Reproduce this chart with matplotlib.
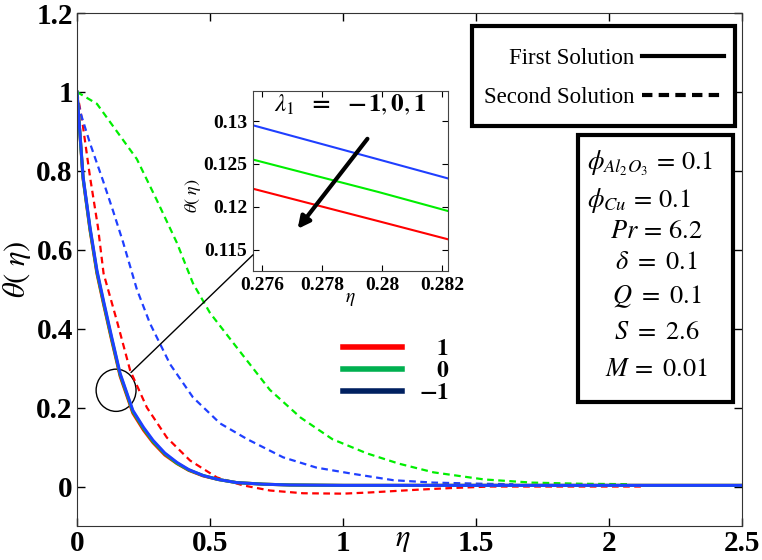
import matplotlib
matplotlib.use("Agg")
import matplotlib.pyplot as plt
from matplotlib.lines import Line2D
from matplotlib.patches import Ellipse, Rectangle, ConnectionPatch
from matplotlib.ticker import FuncFormatter

plt.rcParams["font.family"] = ["Liberation Serif", "DejaVu Serif"]
plt.rcParams["mathtext.fontset"] = "stix"

# first solutions (solid)
eta_s = [0, 0.023, 0.049, 0.075, 0.1, 0.13, 0.162, 0.21, 0.25, 0.286, 0.33,
         0.376, 0.42, 0.474, 0.53, 0.6, 0.7, 0.8, 1.0, 1.5, 2.0, 2.5]
red_s = [1, 0.78, 0.65, 0.54, 0.462, 0.372, 0.28, 0.186, 0.143, 0.111, 0.080,
         0.058, 0.041, 0.027, 0.018, 0.010, 0.006, 0.004, 0.003, 0.003, 0.003, 0.003]
green_s = [1, 0.782, 0.653, 0.544, 0.466, 0.376, 0.284, 0.19, 0.147, 0.114, 0.083,
           0.059, 0.042, 0.028, 0.018, 0.010, 0.006, 0.004, 0.003, 0.003, 0.003, 0.003]
blue_s = [1, 0.785, 0.657, 0.548, 0.47, 0.38, 0.287, 0.193, 0.15, 0.117, 0.085,
          0.061, 0.043, 0.028, 0.018, 0.010, 0.006, 0.004, 0.003, 0.003, 0.003, 0.003]

# second solutions (dashed)
eta_rd = [0, 0.019, 0.049, 0.079, 0.1, 0.15, 0.2, 0.263, 0.338, 0.425, 0.526,
          0.624, 0.725, 0.85, 1.0, 1.1, 1.28, 1.4, 1.55, 1.8, 2.13]
red_d = [1, 0.93, 0.785, 0.657, 0.54, 0.42, 0.294, 0.2, 0.124, 0.066, 0.023,
         0.003, -0.01, -0.017, -0.018, -0.015, -0.008, -0.004, 0.0, 0.0, 0.0]
eta_gd = [0, 0.075, 0.15, 0.225, 0.30, 0.376, 0.436, 0.5, 0.6, 0.725, 0.84,
          0.96, 1.09, 1.21, 1.34, 1.53, 1.71, 1.9, 2.07]
green_d = [1, 0.97, 0.90, 0.83, 0.726, 0.617, 0.515, 0.44, 0.353, 0.245, 0.175,
           0.12, 0.084, 0.058, 0.036, 0.018, 0.010, 0.007, 0.006]
eta_bd = [0, 0.011, 0.049, 0.098, 0.135, 0.173, 0.225, 0.274, 0.35, 0.436,
          0.538, 0.64, 0.775, 0.9, 1.03, 1.19, 1.34, 1.53, 1.64]
blue_d = [1, 0.952, 0.87, 0.775, 0.70, 0.62, 0.50, 0.414, 0.31, 0.226,
          0.16, 0.12, 0.074, 0.048, 0.033, 0.016, 0.01, 0.007, 0.006]

# inset (zoom of first solutions)
eta_in = [0.2757, 0.2799, 0.2822]
blue_in = [0.1295, 0.1255, 0.1233]
green_in = [0.1255, 0.1217, 0.1195]
red_in = [0.1221, 0.1183, 0.1162]

lam_labels = [r"$\quad\mathbf{1}$", r"$\quad\mathbf{0}$", r"$\mathbf{-1}$"]
params = [r"$\phi_{Al_2O_3}\,=\,0.1$", r"$\phi_{Cu}\,=\,0.1$", r"$Pr\,=\,6.2$",
          r"$\delta\ =\ 0.1$", r"$Q\ =\ 0.1$", r"$S\ =\ 2.6$", r"$M\,=\ 0.01$"]

RED, GREEN, BLUE = "#ff0000", "#00ee00", "#1f3fff"

fig = plt.figure(figsize=(7.62, 5.60), dpi=100)
ax = fig.add_axes([0.101, 0.0607, 0.873, 0.916])

dash = (0, (3, 2))
ax.plot(eta_rd, red_d, color=RED, lw=1.6, ls=dash)
ax.plot(eta_gd, green_d, color=GREEN, lw=1.6, ls=dash)
ax.plot(eta_bd, blue_d, color=BLUE, lw=1.6, ls=dash)
ax.plot(eta_s, red_s, color=RED, lw=2.2)
ax.plot(eta_s, green_s, color=GREEN, lw=2.2)
ax.plot(eta_s, blue_s, color=BLUE, lw=2.2)

ax.set_xlim(0, 2.5)
ax.set_ylim(-0.1, 1.2)
ax.set_xticks([0, 0.5, 1, 1.5, 2, 2.5])
ax.set_yticks([0, 0.2, 0.4, 0.6, 0.8, 1, 1.2])
fmt = FuncFormatter(lambda v, p: "%g" % v)
ax.xaxis.set_major_formatter(fmt)
ax.yaxis.set_major_formatter(fmt)
ax.tick_params(direction="in", top=True, right=True, length=6, width=1,
               labelsize=21, pad=3)
for lab in ax.get_xticklabels() + ax.get_yticklabels():
    lab.set_fontweight("bold")
for s in ax.spines.values():
    s.set_color("#333333")

ax.set_ylabel(r"$\theta(\ \eta)$", fontsize=22)
ax.yaxis.set_label_coords(-0.066, 0.5)
ax.text(0.49, -0.027, r"$\eta$", transform=ax.transAxes, fontsize=22,
        ha="center", va="center")

# circle marking the zoomed region
ax.add_patch(Ellipse((0.147, 0.244), 0.150, 0.107, fill=False, color="k", lw=1))

# first/second legend box
ax.add_patch(Rectangle((0.594, 0.78), 0.395, 0.195, transform=ax.transAxes,
                       fc="white", ec="k", lw=3, zorder=5))
h1 = [Line2D([], [], color="k", lw=3), Line2D([], [], color="k", lw=3, ls=(0, (2.5, 1.5)))]
leg1 = ax.legend(h1, ["First Solution", "Second Solution"], loc="center",
                 bbox_to_anchor=(0.7925, 0.873), markerfirst=False,
                 prop={"family": "Liberation Serif", "size": 16.5},
                 handlelength=3.6, handletextpad=0.3, borderpad=0,
                 labelspacing=0.76, frameon=False, borderaxespad=0)
leg1.set_zorder(6)
ax.add_artist(leg1)

# lambda legend
h2 = [Line2D([], [], color="#ff0000", lw=4), Line2D([], [], color="#00b050", lw=4),
      Line2D([], [], color="#002060", lw=4)]
ax.legend(h2, lam_labels, loc="upper left", bbox_to_anchor=(0.4, 0.366),
          frameon=False, fontsize=17, handlelength=2.5, handletextpad=0.7,
          labelspacing=0.03, borderpad=0, borderaxespad=0)

# parameter box
ax.add_patch(Rectangle((0.753, 0.242), 0.233, 0.52, transform=ax.transAxes,
                       fill=False, ec="k", lw=3, zorder=5))
ys = [163, 200, 232, 263, 297, 333, 370]
for i, t in enumerate(params):
    yf = (526 - ys[i]) / 513
    if i < 2:
        ax.text(0.766, yf, t, transform=ax.transAxes, fontsize=19, ha="left", va="center")
    else:
        ax.text(0.871, yf, t, transform=ax.transAxes, fontsize=19, ha="center", va="center")

# inset
axi = fig.add_axes([0.332, 0.516, 0.256, 0.3215])
axi.plot(eta_in, blue_in, color=BLUE, lw=1.5)
axi.plot(eta_in, green_in, color=GREEN, lw=1.5)
axi.plot(eta_in, red_in, color=RED, lw=1.5)
axi.set_xlim(0.2757, 0.2822)
axi.set_ylim(0.1125, 0.1335)
axi.set_xticks([0.276, 0.278, 0.28, 0.282])
axi.set_yticks([0.115, 0.12, 0.125, 0.13])
axi.xaxis.set_major_formatter(fmt)
axi.yaxis.set_major_formatter(fmt)
axi.tick_params(direction="in", top=True, right=True, length=4, labelsize=14, pad=4)
for lab in axi.get_xticklabels() + axi.get_yticklabels():
    lab.set_fontweight("bold")
for s in axi.spines.values():
    s.set_color("#444444")
axi.text(-0.31, 0.42, r"$\theta(\ \eta)$", transform=axi.transAxes, fontsize=13,
         rotation=90, ha="center", va="center")
axi.text(0.5, -0.16, r"$\eta$", transform=axi.transAxes, fontsize=14,
         ha="center", va="center")
axi.text(0.11, 0.925, r"$\boldsymbol{\lambda_1\ \ =\ \ -1,0,1}$", transform=axi.transAxes,
         fontsize=18, ha="left", va="center")
axi.annotate("", xy=(0.27713, 0.11716), xytext=(0.27957, 0.12818),
             arrowprops=dict(arrowstyle="-|>,head_length=0.7,head_width=0.35",
                             color="k", lw=3))

con = ConnectionPatch(xyA=(0.203, 0.289), coordsA=ax.transData,
                      xyB=(0, 0.09), coordsB=axi.transAxes, color="k", lw=1)
fig.add_artist(con)

fig.savefig("out.png", dpi=100)
